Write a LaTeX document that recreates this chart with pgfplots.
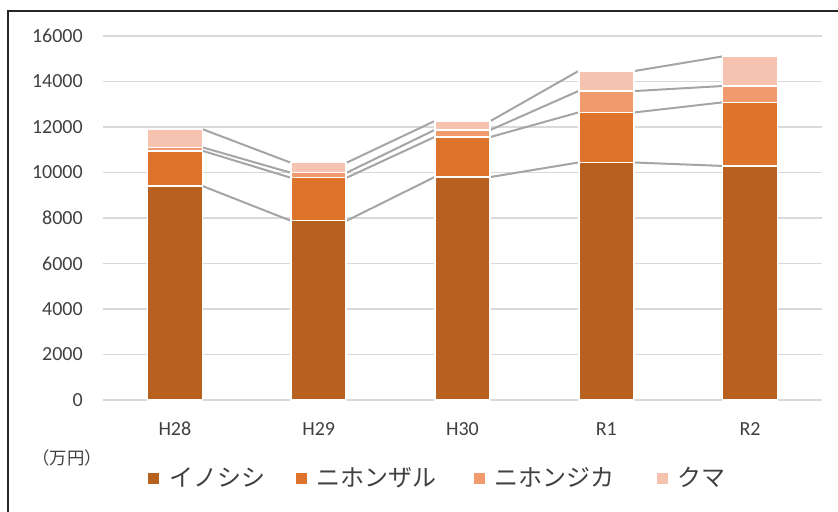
\documentclass[border=0pt]{standalone}
\usepackage{fontspec}
\setmainfont{Carlito}
\newfontfamily\jp{Noto Sans CJK JP}
\usepackage{pgfplots}
\usepackage{pgfplotstable}
\pgfplotsset{compat=1.18}
\definecolor{c1}{HTML}{B8601F}
\definecolor{c2}{HTML}{DE742B}
\definecolor{c3}{HTML}{F09A6E}
\definecolor{c4}{HTML}{F6C3B1}
\definecolor{gridc}{HTML}{D9D9D9}
\definecolor{sline}{HTML}{A5A5A5}
\definecolor{txt}{HTML}{404040}
\pgfplotstableread{
x a b c d
0 9400 1550 150 800
1 7880 1890 220 440
2 9800 1760 310 390
3 10440 2200 940 880
4 10290 2790 720 1300
}\data
\pgfplotsset{base/.style={
  scale only axis, width=539.25pt, height=273pt,
  xmin=-0.5, xmax=4.5, ymin=0, ymax=16000,
  at={(0pt,0pt)}, anchor=south west,
  axis line style={draw=none}, major tick length=0pt,
}}
\begin{document}
\begin{tikzpicture}
\useasboundingbox (-77.25pt,-83.25pt) rectangle (551.25pt,300pt);
\draw[line width=1.5pt, black!85] (-71pt,-84pt) -- (-71pt,291.4pt) -- (552pt,291.4pt);
\begin{axis}[base,
  ytick={0,2000,...,16000}, ymajorgrids,
  grid style={gridc, line width=1.2pt},
  xtick={0,1,2,3,4}, xticklabels={H28,H29,H30,R1,R2},
  tick label style={font=\fontsize{15}{18}\selectfont, text=txt},
  yticklabel style={anchor=east, inner sep=0pt, xshift=-15pt},
  xticklabel style={anchor=north, inner sep=0pt, yshift=-16.5pt},
  /pgf/number format/assume math mode=true,
  /pgf/number format/1000 sep={},
  scaled y ticks=false,
  unbounded coords=jump,
]
\addplot[sline, line width=1.5pt] coordinates {(0.194,9400) (0.806,7880) (1,nan) (1.194,7880) (1.806,9800) (2,nan) (2.194,9800) (2.806,10440) (3,nan) (3.194,10440) (3.806,10290)};
\addplot[sline, line width=1.5pt] coordinates {(0.194,10950) (0.806,9770) (1,nan) (1.194,9770) (1.806,11560) (2,nan) (2.194,11560) (2.806,12640) (3,nan) (3.194,12640) (3.806,13080)};
\addplot[sline, line width=1.5pt] coordinates {(0.194,11100) (0.806,9990) (1,nan) (1.194,9990) (1.806,11870) (2,nan) (2.194,11870) (2.806,13580) (3,nan) (3.194,13580) (3.806,13800)};
\addplot[sline, line width=1.5pt] coordinates {(0.194,11900) (0.806,10430) (1,nan) (1.194,10430) (1.806,12260) (2,nan) (2.194,12260) (2.806,14460) (3,nan) (3.194,14460) (3.806,15100)};
\end{axis}
\begin{axis}[base,
  xtick=\empty, ytick=\empty,
  ybar stacked, bar width=41.25pt,
  legend columns=4,
  legend style={at={(0.0626,-0.2143)}, anchor=west, draw=none, fill=none,
    inner sep=0pt, font=\jp\fontsize{18}{22}\selectfont, text=txt,
    nodes={inner sep=0pt},
    /tikz/every odd column/.append style={column sep=7.5pt},
    /tikz/every even column/.append style={column sep=23pt}},
  legend image code/.code={\fill[#1, draw=none] (0pt,-4.125pt) rectangle (8.25pt,4.125pt);},
]
\addplot[fill=c1, draw=white, line width=1.1pt] table[x=x,y=a]{\data};
\addplot[fill=c2, draw=white, line width=1.1pt] table[x=x,y=b]{\data};
\addplot[fill=c3, draw=white, line width=1.1pt] table[x=x,y=c]{\data};
\addplot[fill=c4, draw=white, line width=1.1pt] table[x=x,y=d]{\data};
\legend{イノシシ,ニホンザル\kern4.5pt\relax,ニホンジカ\kern8.5pt\relax,クマ}
\end{axis}
\node[anchor=west, inner sep=0pt, font=\jp\fontsize{13}{15}\selectfont, text=txt] at (-53pt,-43.5pt) {（万円）};
\end{tikzpicture}
\end{document}
